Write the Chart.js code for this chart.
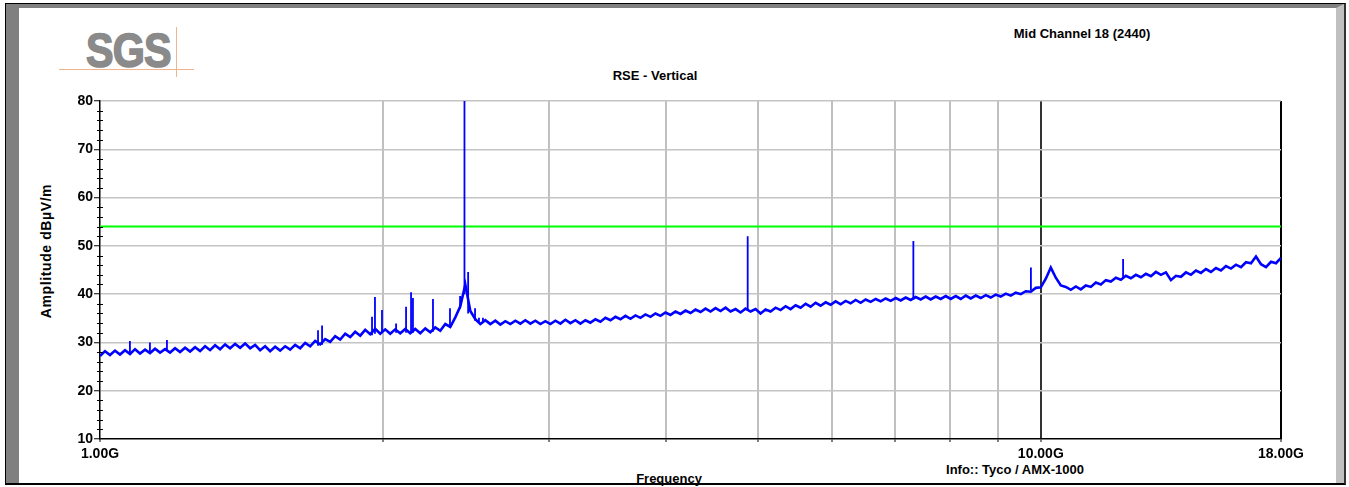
<!DOCTYPE html>
<html>
<head>
<meta charset="utf-8">
<script src="https://cdn.jsdelivr.net/npm/chart.js@4.4.1/dist/chart.umd.min.js"></script>
<style>
  body { margin: 0; background: #fff; font-family: "Liberation Sans", Arial, sans-serif; }
  #wrap { position: relative; width: 1349px; height: 487px; overflow: hidden; }
  .frame { position: absolute; left: 5px; top: 3px; width: 1338px; height: 479px;
           border-left: 1px solid #000; border-top: 1px solid #000; border-right: 2px solid #333; border-bottom: 2px solid #000; }
  .bevel { position: absolute; left: 0; top: 0; right: 0; bottom: 0;
           border-left: 13px solid #808080; border-top: 4px solid #808080; border-right: 8px solid #c0c0c0; }
  .txt { position: absolute; transform: translate(-50%, -50%); font-weight: bold; color: #000; white-space: nowrap; line-height: 1; }
  .logo { position: absolute; left: 86px; top: 27px; font: bold 48px "Liberation Sans", Arial, sans-serif; line-height: 1;
          color: #8a8a8a; -webkit-text-stroke: 1.6px #8a8a8a; letter-spacing: -1px;
          transform: scaleX(0.86); transform-origin: left top; }
  .oh { position: absolute; left: 59px; top: 69px; width: 135px; height: 1px; background: #f2b48e; }
  .ov { position: absolute; left: 176px; top: 27px; width: 1px; height: 50px; background: #f2b48e; }
  canvas { position: absolute; left: 0; top: 0; }
</style>
</head>
<body>
<div id="wrap">
  <div class="frame"><div class="bevel"></div></div>
  <div class="logo">SGS</div>
  <div class="oh"></div>
  <div class="ov"></div>
  <div class="txt" style="left:1082px; top:33px; font-size:13px;">Mid Channel 18 (2440)</div>
  <div class="txt" style="left:655px; top:75px; font-size:13px;">RSE - Vertical</div>
  <div class="txt" style="left:46px; top:251px; font-size:14px; letter-spacing:0.6px; transform: translate(-50%, -50%) rotate(-90deg);">Amplitude dBµV/m</div>
  <div class="txt" style="left:669px; top:478px; font-size:13px;">Frequency</div>
  <div class="txt" style="left:1015px; top:469px; font-size:13px;">Info:: Tyco / AMX-1000</div>
  <canvas id="rse" width="1349" height="487"></canvas>
</div>
<script>
// sweep: 1 GHz .. 18 GHz
var sweepStart = 1, sweepStop = 18, sweepPoints = 237;

var traceLevel = [
  27.2,28.2,27.4,28.3,27.5,28.4,27.6,28.6,27.7,28.5,
  27.8,28.7,27.9,28.6,27.9,28.8,28.0,28.9,28.1,29.0,
  28.2,29.2,28.4,29.4,28.6,29.6,28.8,29.7,28.9,29.8,
  28.8,29.5,28.4,29.2,28.2,29.1,28.3,29.2,28.5,29.5,
  28.8,29.9,29.2,30.3,29.6,30.7,30.1,31.3,30.6,31.8,
  31.1,32.2,31.4,32.6,31.7,32.8,31.8,32.7,31.8,32.7,
  31.9,32.8,31.9,32.8,31.9,32.9,32.1,33.1,32.4,33.8,
  33.2,35.2,37.5,42.0,36.5,34.8,33.8,34.6,33.8,34.5,
  33.7,34.4,33.8,34.5,33.9,34.6,33.9,34.5,33.8,34.4,
  33.8,34.5,33.9,34.7,34.0,34.6,33.9,34.6,34.1,34.8,
  34.3,35.1,34.6,35.3,34.8,35.5,34.9,35.6,35.1,35.8,
  35.3,36.0,35.5,36.2,35.7,36.4,35.9,36.6,36.1,36.8,
  36.3,37.0,36.4,37.1,36.5,37.2,36.4,36.9,36.2,37.0,
  36.4,36.9,36.0,36.8,36.4,37.2,36.7,37.5,36.9,37.7,
  37.2,38.0,37.4,38.2,37.6,38.3,37.8,38.5,37.9,38.6,
  38.1,38.8,38.2,38.9,38.4,39.0,38.5,39.1,38.6,39.2,
  38.7,39.3,38.8,39.4,38.9,39.5,38.9,39.5,39.0,39.6,
  39.0,39.6,39.0,39.7,39.1,39.7,39.2,39.8,39.3,39.9,
  39.5,40.1,39.7,40.3,40.0,40.6,40.5,41.3,41.4,43.2,
  45.5,43.4,41.8,41.5,40.9,41.6,41.0,41.8,41.5,42.4,
  42.0,42.9,42.6,43.4,43.0,43.8,43.3,44.0,43.5,44.2,
  43.7,44.6,44.0,44.5,42.9,43.8,43.6,44.5,44.0,44.9,
  44.4,45.2,44.6,45.4,44.9,45.8,45.3,46.1,45.6,46.6,
  46.4,47.8,46.2,45.6,46.7,46.4,47.5
];

// narrow emissions (GHz, floor, peak)
var spikeFreq = [1.076, 1.130, 1.178, 1.705, 1.722, 1.946, 1.960, 1.994, 2.064, 2.115, 2.141, 2.151,
                 2.259, 2.355, 2.414, 2.44, 2.462, 2.504, 2.528, 2.553, 4.88, 7.32, 9.76, 12.23];
var spikeBase = [27.8, 28.0, 28.3, 29.3, 29.5, 31.5, 31.8, 32.0, 32.0, 32.0, 32.0, 32.0,
                 32.2, 33.0, 37.0, 40.0, 36.0, 34.5, 34.2, 34.2, 36.6, 38.9, 40.8, 43.5];
var spikeTop  = [30.3, 30.0, 30.5, 32.5, 33.5, 35.3, 39.4, 36.7, 33.9, 37.4, 40.4, 39.2,
                 39.0, 37.1, 39.6, 90.0, 44.6, 37.1, 35.1, 35.1, 52.0, 51.0, 45.5, 47.3];

// limit line
var limitFreq = [1, 18];
var limitLevel = [54, 54];

// axes
var xTickFreq = [1, 2, 3, 4, 5, 6, 7, 8, 9, 10, 18];
var xTickText = { 1: '1.00G', 10: '10.00G', 18: '18.00G' };
var yMin = 10, yMax = 80, yStep = 10, yMinorStep = 2;

var trace = traceLevel.map(function (v, i) {
  return { x: sweepStart * Math.pow(sweepStop / sweepStart, i / (sweepPoints - 1)), y: v };
});
var spikes = [];
spikeFreq.forEach(function (f, i) {
  spikes.push({ x: f, y: spikeBase[i] }, { x: f, y: spikeTop[i] }, { x: f, y: null });
});
var limit = limitFreq.map(function (f, i) { return { x: f, y: limitLevel[i] }; });

var minorTicks = {
  id: 'minorTicks',
  afterDraw: function (chart) {
    var ys = chart.scales.y, x0 = chart.chartArea.left, c = chart.ctx;
    c.save();
    c.strokeStyle = '#000';
    c.lineWidth = 1;
    for (var v = yMin + yMinorStep; v < yMax; v += yMinorStep) {
      if (v % yStep === 0) continue;
      var py = Math.round(ys.getPixelForValue(v)) + 0.5;
      c.beginPath();
      c.moveTo(x0 - 3, py);
      c.lineTo(x0 + 3, py);
      c.stroke();
    }
    c.restore();
  }
};

Chart.defaults.font.family = '"Liberation Sans", Arial, sans-serif';
Chart.defaults.color = '#000';

var ctx = document.getElementById('rse').getContext('2d');
var chart = new Chart(ctx, {
  type: 'line',
  data: {
    datasets: [
      { label: 'Limit', data: limit, borderColor: '#00ff00', borderWidth: 2, pointRadius: 0, order: 3 },
      { label: 'Trace', data: trace, borderColor: '#0000ff', borderWidth: 2.6, pointRadius: 0, tension: 0, order: 2 },
      { label: 'Spikes', data: spikes, borderColor: '#0000ff', borderWidth: 1.8, pointRadius: 0, spanGaps: false, order: 1 }
    ]
  },
  options: {
    responsive: false,
    animation: false,
    events: [],
    layout: { autoPadding: false, padding: { left: 0, top: 101, right: 68, bottom: 0 } },
    plugins: { legend: { display: false }, tooltip: { enabled: false } },
    scales: {
      x: {
        type: 'logarithmic',
        min: sweepStart,
        max: sweepStop,
        afterBuildTicks: function (scale) {
          scale.ticks = xTickFreq.map(function (v) { return { value: v }; });
        },
        afterFit: function (scale) { scale.height = 48; },
        ticks: {
          autoSkip: false, maxRotation: 0, padding: 4,
          font: { size: 14, weight: 'bold' },
          callback: function (v) { return xTickText[v] || ''; }
        },
        grid: {
          lineWidth: 2,
          tickLength: 3,
          tickColor: '#000',
          tickWidth: 1,
          color: function (c) {
            if (!c.tick) return '#c0c0c0';
            if (c.tick.value === 1) return 'rgba(0,0,0,0)';
            if (c.tick.value === 10) return '#333';
            if (c.tick.value === 18) return '#000';
            return '#c0c0c0';
          }
        },
        border: { display: true, color: '#000', width: 1.5 }
      },
      y: {
        min: yMin,
        max: yMax,
        afterFit: function (scale) { scale.width = 100; },
        ticks: { stepSize: yStep, padding: 1, font: { size: 14, weight: 'bold' } },
        grid: {
          lineWidth: 1.5,
          tickLength: 6,
          tickColor: '#000',
          tickWidth: 1,
          color: function (c) {
            if (c.tick && c.tick.value === yMin) return 'rgba(0,0,0,0)';
            return '#c4c4c4';
          }
        },
        border: { display: true, color: '#000', width: 1.5 }
      }
    }
  },
  plugins: [minorTicks]
});
</script>
</body>
</html>
